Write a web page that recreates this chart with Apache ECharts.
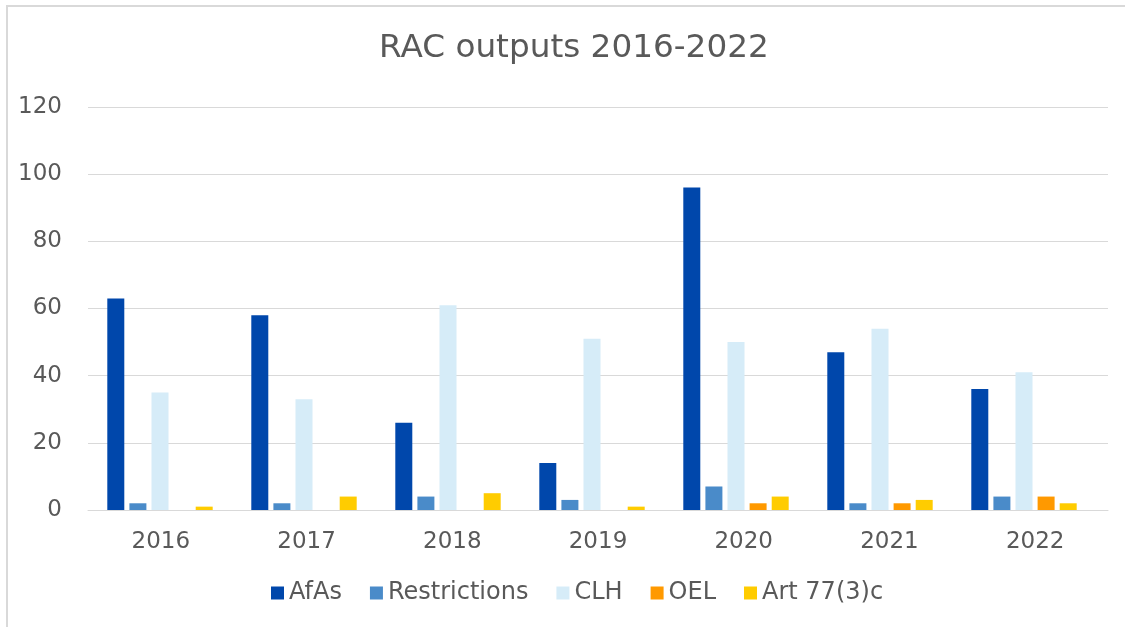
<!DOCTYPE html>
<html><head><meta charset="utf-8">
<script src="https://cdn.jsdelivr.net/npm/echarts@6/dist/echarts.min.js"></script>
<style>html,body{margin:0;padding:0;background:#fff}#c{width:1125px;height:627px}</style>
</head><body><div id="c"></div>
<script>
const categories = ['2016','2017','2018','2019','2020','2021','2022'];
const afas = [63, 58, 26, 14, 96, 47, 36];
const restrictions = [2, 2, 4, 3, 7, 2, 4];
const clh = [35, 33, 61, 51, 50, 54, 41];
const oel = [0, 0, 0, 0, 2, 2, 4];
const art77 = [1, 4, 5, 1, 4, 3, 2];
const yTicks = {min: 0, max: 120, interval: 20};
const seriesNames = ['AfAs','Restrictions','CLH','OEL','Art 77(3)c'];
const colors = ['#0047AB','#4A8BC9','#D6ECF8','#FF9900','#FFCC00'];
const values = [afas, restrictions, clh, oel, art77];

const chart = echarts.init(document.getElementById('c'));
const font = 'DejaVu Sans, Verdana, sans-serif';
chart.setOption({
  animation: false,
  color: colors,
  textStyle: {fontFamily: font},
  graphic: [{type:'rect', shape:{x:7,y:6,width:1130,height:640}, style:{fill:'none', stroke:'#d9d9d9', lineWidth:2}}],
  title: {text: 'RAC outputs 2016-2022', left: 374, top: 27,
    textStyle: {fontFamily: font, fontSize: 32.7, fontWeight: 'normal', color: '#595959'}},
  legend: {bottom: 17, left: 266, itemWidth: 13, itemHeight: 13, itemGap: 28, icon: 'rect',
    textStyle: {fontFamily: font, fontSize: 24, color: '#595959'}, data: seriesNames},
  grid: [
    {left: 88, right: 17, top: 107, bottom: 117},
    {left: 88, right: 29, top: 107, bottom: 117}
  ],
  xAxis: [
    {type: 'category', data: categories, gridIndex: 0,
      axisLine: {lineStyle: {color: '#d9d9d9', width: 1}}, axisTick: {show: false},
      axisLabel: {fontFamily: font, fontSize: 23, color: '#595959', margin: 21}},
    {type: 'category', data: categories, gridIndex: 1, show: false}
  ],
  yAxis: [
    {type: 'value', gridIndex: 0, min: yTicks.min, max: yTicks.max, interval: yTicks.interval,
      axisLine: {show: false}, axisTick: {show: false},
      splitLine: {lineStyle: {color: '#d9d9d9', width: 1}},
      axisLabel: {fontFamily: font, fontSize: 23, color: '#595959', margin: 26}},
    {type: 'value', gridIndex: 1, min: yTicks.min, max: yTicks.max, interval: yTicks.interval, show: false,
      splitLine: {show: false}}
  ],
  series: seriesNames.map((n, i) => ({
    name: n, type: 'bar', xAxisIndex: 1, yAxisIndex: 1, data: values[i],
    barWidth: 17, barGap: '30%', barCategoryGap: '28%',
    itemStyle: {color: colors[i]}
  }))
});
</script></body></html>
